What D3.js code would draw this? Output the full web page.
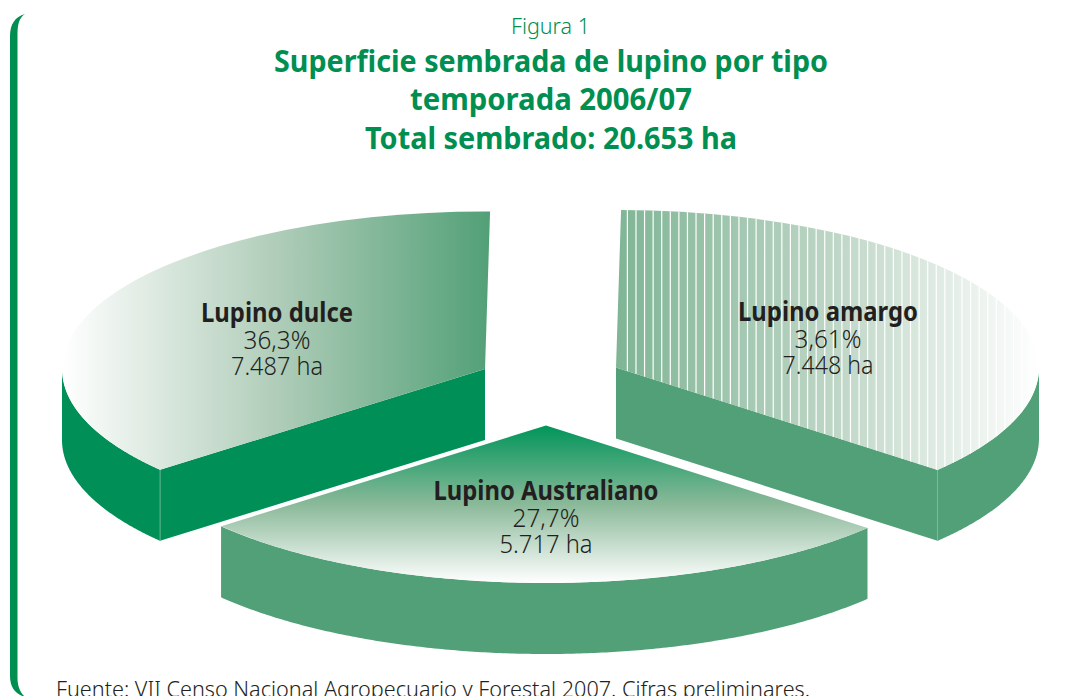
<!DOCTYPE html>
<html><head><meta charset="utf-8">
<style>html,body{margin:0;padding:0;background:#fff;overflow:hidden}svg{display:block}</style>
<script src="https://cdn.jsdelivr.net/npm/d3@7"></script></head>
<body><svg id="c" width="1076" height="696"></svg>
<script>
const categories = ["Lupino amargo","Lupino Australiano","Lupino dulce"];
const hectares = [7448,5717,7487];
const percentLabels = ["3,61%","27,7%","36,3%"];
const haLabels = ["7.448 ha","5.717 ha","7.487 ha"];
const titleLines = ["Superficie sembrada de lupino por tipo","temporada 2006/07","Total sembrado: 20.653 ha"];
const figureLabel = "Figura 1";
const sourceNote = "Fuente: VII Censo Nacional Agropecuario y Forestal 2007. Cifras preliminares.";

// layout
const W=1076,H=696, RX=423, RY=157.5, DEPTH=71;
const centerX=[616,546,485], centerY=[367.5,425.5,369];
const labelX=[828,546,277], labelY=[320.5,499.5,321.5];
const nameW=[180,225,152], pctW=[67,67,67], haW=[91,93,92];
const sideFill=["#52a077","#52a077","#008f57"];
const GREEN="#008f51", INK="#231f20", FONT="'Noto Sans',sans-serif";

const svg=d3.select("#c");
const defs=svg.append("defs");
function grad(id,x2,y2,stops){
  const g=defs.append("linearGradient").attr("id",id).attr("x1",0).attr("y1",0).attr("x2",x2).attr("y2",y2);
  stops.forEach(s=>g.append("stop").attr("offset",s[0]).attr("stop-color",s[1]));
}
grad("g0",1,0,[[0,"#7fb595"],[0.5,"#bcd5c4"],[1,"#ffffff"]]);
grad("g1",0,1,[[0,"#00955a"],[0.5,"#8ab999"],[1,"#ffffff"]]);
grad("g2",1,0,[[0,"#ffffff"],[0.5,"#b0cdb9"],[1,"#52a077"]]);

const pie=d3.pie().sort(null).startAngle(0.7*Math.PI/180).endAngle(360.7*Math.PI/180);
const slices=pie(hectares);
const arc=d3.arc().innerRadius(0).outerRadius(1);
const wall=d3.area().x(d=>d[0]).y0(d=>d[1]).y1(d=>d[1]+DEPTH);

// left bracket
svg.append("path").attr("fill",GREEN)
 .attr("d","M25,14 C15,17 10,24 10,36 L10,676 C10,687 15,694 25,697 C20,692 17.5,686 17.5,678 L17.5,36 C17.5,24 19,18 25,14 Z");

const g=svg.selectAll("g.slice").data(slices).join("g").attr("class","slice")
  .attr("transform",(d,i)=>`translate(${centerX[i]},${centerY[i]})`);

g.each(function(d,i){
  const s=d3.select(this);
  // outer wall: the part of the rim that faces the viewer
  const a0=Math.max(d.startAngle,Math.PI/2), a1=Math.min(d.endAngle,Math.PI*1.5);
  if(a1>a0){
    const pts=d3.range(0,1.0001,0.005).map(t=>{const a=a0+(a1-a0)*t;return [RX*Math.sin(a),-RY*Math.cos(a)];});
    s.append("path").attr("fill",sideFill[i]).attr("d",wall(pts));
  }
  // radial wall
  const radial=(i===0)?d.endAngle:(i===2?d.startAngle:null);
  if(radial!==null){
    const c=[RX*Math.sin(radial),-RY*Math.cos(radial)];
    s.append("path").attr("fill",sideFill[i]).attr("d",wall([[0,0],c]));
    s.append("line").attr("x1",c[0]).attr("x2",c[0]).attr("y1",c[1]).attr("y2",c[1]+DEPTH)
      .attr("stroke","#7dbb9a").attr("stroke-width",0.8);
  }
  // top surface
  s.append("path").attr("transform",`scale(${RX},${RY})`).attr("d",arc(d)).attr("fill",`url(#g${i})`);
});

// white stripes on the amargo face
defs.append("clipPath").attr("id","topClip").append("path")
  .attr("transform",`translate(${centerX[0]},${centerY[0]}) scale(${RX},${RY})`).attr("d",arc(slices[0]));
svg.append("g").attr("clip-path","url(#topClip)").selectAll("line")
  .data(d3.range(627.4,1040,8.58)).join("line")
  .attr("x1",d=>d).attr("x2",d=>d).attr("y1",205).attr("y2",475)
  .attr("stroke","#fff").attr("stroke-width",1.2);

function txt(str,x,y,size,weight,fill,width,anchor){
  const t=svg.append("text").attr("x",x).attr("y",y).attr("font-family",FONT).attr("font-size",size)
    .attr("font-weight",weight).attr("fill",fill).attr("text-anchor",anchor||"middle").text(str);
  if(width) t.attr("textLength",width).attr("lengthAdjust","spacingAndGlyphs");
  return t;
}
txt(figureLabel,550.5,34,21,300,GREEN,79);
const titleW=[554,282,372], titleY=[72,110,149];
titleLines.forEach((l,i)=>txt(l,551,titleY[i],30,700,GREEN,titleW[i]));

categories.forEach((c,i)=>{
  txt(c,labelX[i],labelY[i],26,700,INK,nameW[i]);
  txt(percentLabels[i],labelX[i],labelY[i]+27,25,300,INK,pctW[i]);
  txt(haLabels[i],labelX[i],labelY[i]+53,25,300,INK,haW[i]);
});
txt(sourceNote,56,697,22,300,INK,754,"start");
</script></body></html>
